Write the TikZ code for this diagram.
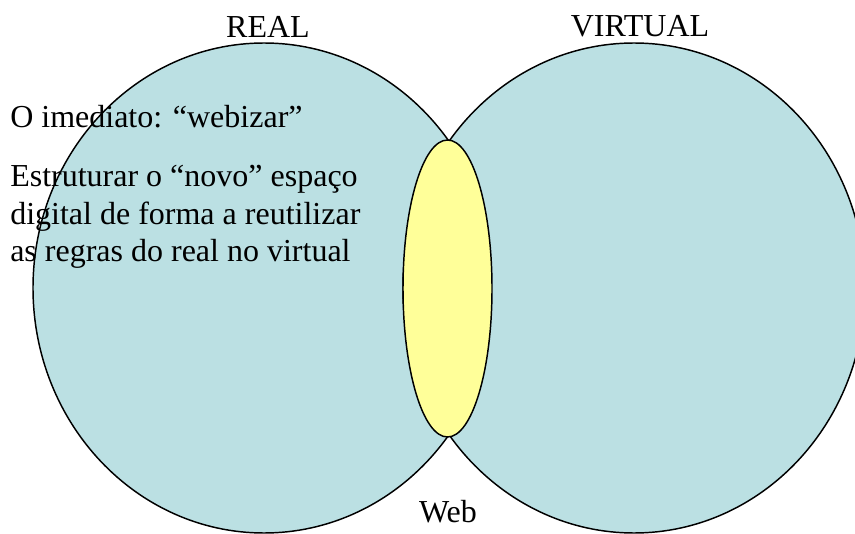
\documentclass[tikz,border=0pt]{standalone}
\usepackage{fontspec}
\setmainfont{Liberation Serif}
\usetikzlibrary{shapes.geometric}
\definecolor{setfill}{HTML}{BBE0E3}
\definecolor{webfill}{HTML}{FFFF99}
\tikzset{
  setblob/.style={ellipse, draw=black, line width=1.1pt, fill=setfill,
    inner sep=0pt, minimum width=346.5pt, minimum height=367.5pt},
  webblob/.style={ellipse, draw=black, line width=1.1pt, fill=webfill,
    inner sep=0pt, minimum width=66.75pt, minimum height=222.75pt},
  caption/.style={inner sep=0pt, font=\fontsize{24}{28}\selectfont},
  bodytext/.style={caption, anchor=base west}
}
\begin{document}
\begin{tikzpicture}[x=0.75pt, y=-0.75pt]
  \clip (0,0) rectangle (855,534);
  \fill[white] (0,0) rectangle (855,534);
  % the two sets
  \node[setblob] (real) at (264,288) {};
  \node[setblob] (virtual) at (634,288) {};
  % their overlap
  \node[webblob] (web) at (447.5,288.5) {};
  % set labels
  \node[caption, anchor=base] (reallabel) at (268,38) {REAL};
  \node[caption, anchor=base] (virtuallabel) at (640,37) {VIRTUAL};
  \node[caption, anchor=base] (weblabel) at (448,522) {Web};
  % notes on the real side
  \node[bodytext] (note1) at (10,128) {O imediato: “webizar”};
  \node[bodytext] (note2a) at (10,187) {Estruturar o “novo” espaço};
  \node[bodytext] (note2b) at (10,225) {digital de forma a reutilizar};
  \node[bodytext] (note2c) at (10,262) {as regras do real no virtual};
\end{tikzpicture}
\end{document}
